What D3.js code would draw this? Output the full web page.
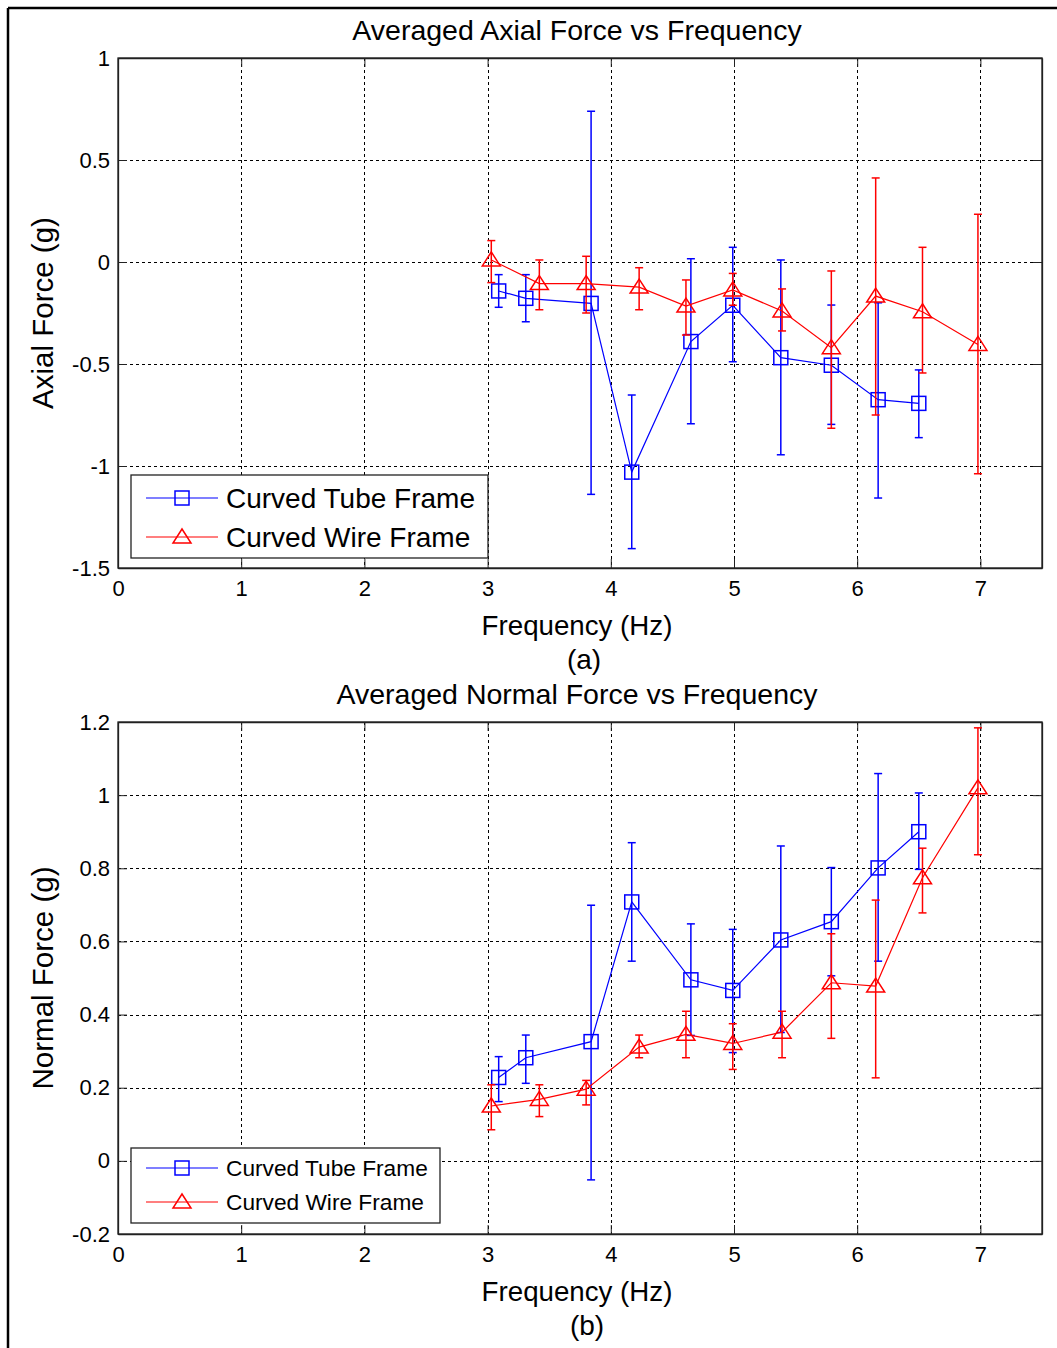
<!DOCTYPE html>
<html><head><meta charset="utf-8">
<script src="https://d3js.org/d3.v7.min.js"></script>
<style>body{margin:0;background:#fff}svg{display:block}text{font-family:"Liberation Sans",Arial,sans-serif;fill:#000}</style>
</head><body>
<script>
// ---- data ----
const xTicks = [0,1,2,3,4,5,6,7];
const yTicksA = [1,0.5,0,-0.5,-1,-1.5];
const yTicksB = [1.2,1,0.8,0.6,0.4,0.2,0,-0.2];
const seriesNames = ["Curved Tube Frame","Curved Wire Frame"];

// (a) Axial force
const tubeFreqA = [3.09,3.31,3.84,4.17,4.65,4.99,5.38,5.79,6.17,6.50];
const tubeAxial = [-0.142,-0.178,-0.203,-1.03,-0.39,-0.212,-0.469,-0.506,-0.675,-0.693];
const tubeAxialHi = [-0.062,-0.062,0.739,-0.652,0.016,0.072,0.01,-0.211,-0.2,-0.529];
const tubeAxialLo = [-0.222,-0.293,-1.139,-1.405,-0.793,-0.489,-0.945,-0.796,-1.157,-0.861];
const wireFreqA = [3.03,3.42,3.80,4.23,4.61,4.99,5.39,5.79,6.15,6.53,6.98];
const wireAxial = [0.01,-0.106,-0.106,-0.123,-0.216,-0.137,-0.24,-0.42,-0.167,-0.244,-0.404];
const wireAxialHi = [0.105,0.01,0.028,-0.028,-0.088,-0.056,-0.132,-0.044,0.412,0.072,0.234];
const wireAxialLo = [-0.101,-0.234,-0.25,-0.234,-0.358,-0.212,-0.338,-0.815,-0.75,-0.544,-1.038];

// (b) Normal force
const tubeNormal = [0.228,0.282,0.326,0.708,0.495,0.466,0.604,0.654,0.801,0.9];
const tubeNormalHi = [0.285,0.344,0.699,0.87,0.648,0.633,0.861,0.802,1.059,1.006];
const tubeNormalLo = [0.162,0.212,-0.052,0.546,0.343,0.296,0.351,0.506,0.546,0.797];
const wireNormal = [0.15,0.168,0.196,0.311,0.346,0.321,0.352,0.487,0.478,0.774,1.02];
const wireNormalHi = [0.208,0.208,0.22,0.344,0.409,0.375,0.409,0.621,0.713,0.855,1.184];
const wireNormalLo = [0.085,0.121,0.153,0.282,0.282,0.25,0.282,0.335,0.227,0.678,0.837];

const BLUE = "#0000ff", RED = "#ff0000";

const W = 1057, H = 1348;
const svg = d3.select("body").append("svg").attr("width", W).attr("height", H);

// outer frame (left & top visible)
svg.append("line").attr("x1",8).attr("x2",W).attr("y1",8).attr("y2",8).attr("stroke","#000").attr("stroke-width",2.5);
svg.append("line").attr("x1",8).attr("x2",8).attr("y1",8).attr("y2",H).attr("stroke","#000").attr("stroke-width",2.5);

function zip(xs, ys, hi, lo){ return xs.map((x,i)=>({x, y: ys[i], hi: hi[i], lo: lo[i]})); }

function panel(cfg){
  const x = d3.scaleLinear().domain([0,7.5]).range([118,1042]);
  const y = d3.scaleLinear().domain(cfg.ydom).range([cfg.bottom, cfg.top]);
  const g = svg.append("g");
  const L = 118, R = 1042, T = cfg.top, B = cfg.bottom;

  // grid
  g.selectAll(".gx").data(xTicks.filter(t=>t>0)).join("line")
    .attr("x1",d=>Math.round(x(d))+0.5).attr("x2",d=>Math.round(x(d))+0.5).attr("y1",T).attr("y2",B)
    .attr("stroke","#000").attr("stroke-width",1).attr("stroke-dasharray","3,3");
  g.selectAll(".gy").data(cfg.yticks.filter(t=>t!==cfg.ydom[0] && t!==cfg.ydom[1])).join("line")
    .attr("x1",L).attr("x2",R).attr("y1",d=>Math.round(y(d))+0.5).attr("y2",d=>Math.round(y(d))+0.5)
    .attr("stroke","#000").attr("stroke-width",1).attr("stroke-dasharray","3,3");

  // axes via d3 axis (inward ticks)
  const xAxisB = d3.axisBottom(x).tickValues(xTicks).tickSizeInner(-9).tickSizeOuter(0).tickPadding(12).tickFormat(d=>String(d));
  g.append("g").attr("transform",`translate(0,${B})`).call(xAxisB);
  const xAxisT = d3.axisTop(x).tickValues(xTicks).tickSizeInner(-9).tickSizeOuter(0).tickFormat("");
  g.append("g").attr("transform",`translate(0,${T})`).call(xAxisT);
  const yAxisL = d3.axisLeft(y).tickValues(cfg.yticks).tickSizeInner(-9).tickSizeOuter(0).tickPadding(8).tickFormat(d=>String(d));
  g.append("g").attr("transform",`translate(${L},0)`).call(yAxisL);
  const yAxisR = d3.axisRight(y).tickValues(cfg.yticks).tickSizeInner(-9).tickSizeOuter(0).tickFormat("");
  g.append("g").attr("transform",`translate(${R},0)`).call(yAxisR);
  g.selectAll(".domain").attr("stroke","#222").attr("stroke-width",1.3);
  g.selectAll(".tick line").attr("stroke","#222");
  g.selectAll(".tick text").attr("font-size",22).attr("font-family","Liberation Sans, Arial, sans-serif").attr("fill","#000");

  // box
  g.append("rect").attr("x",L).attr("y",T).attr("width",R-L).attr("height",B-T).attr("fill","none").attr("stroke","#222").attr("stroke-width",1.3);

  // series
  const line = d3.line().x(d=>x(d.x)).y(d=>y(d.y));
  cfg.series.forEach(s=>{
    const sg = g.append("g");
    sg.append("path").datum(s.data).attr("d",line).attr("fill","none").attr("stroke",s.color).attr("stroke-width",1.2);
    const eb = sg.selectAll(".eb").data(s.data).join("g");
    eb.append("line").attr("x1",d=>x(d.x)).attr("x2",d=>x(d.x)).attr("y1",d=>y(d.hi)).attr("y2",d=>y(d.lo)).attr("stroke",s.color).attr("stroke-width",1.5);
    eb.append("line").attr("x1",d=>x(d.x)-4).attr("x2",d=>x(d.x)+4).attr("y1",d=>y(d.hi)).attr("y2",d=>y(d.hi)).attr("stroke",s.color).attr("stroke-width",1.5);
    eb.append("line").attr("x1",d=>x(d.x)-4).attr("x2",d=>x(d.x)+4).attr("y1",d=>y(d.lo)).attr("y2",d=>y(d.lo)).attr("stroke",s.color).attr("stroke-width",1.5);
    if(s.marker==="square"){
      sg.selectAll(".mk").data(s.data).join("rect").attr("x",d=>x(d.x)-7).attr("y",d=>y(d.y)-7).attr("width",14).attr("height",14)
        .attr("fill","none").attr("stroke",s.color).attr("stroke-width",1.5);
    } else {
      sg.selectAll(".mk").data(s.data).join("path").attr("d",d=>{const cx=x(d.x), cy=y(d.y); return `M${cx},${cy-8}L${cx+9},${cy+6}L${cx-9},${cy+6}Z`;})
        .attr("fill","none").attr("stroke",s.color).attr("stroke-width",1.5);
    }
  });

  // title & labels
  svg.append("text").attr("x",577).attr("y",T-18).attr("text-anchor","middle").attr("font-size",28.5).text(cfg.title);
  svg.append("text").attr("x",577).attr("y",B+67).attr("text-anchor","middle").attr("font-size",27.7).text("Frequency (Hz)");
  svg.append("text").attr("x",cfg.capX).attr("y",B+101).attr("text-anchor","middle").attr("font-size",28).text(cfg.caption);
  svg.append("text").attr("transform",`translate(53,${cfg.ylabY}) rotate(-90)`).attr("text-anchor","middle").attr("font-size",29.5).text(cfg.ylabel);

  // legend
  const lg = cfg.legend;
  svg.append("rect").attr("x",lg.x).attr("y",lg.y).attr("width",lg.w).attr("height",lg.h).attr("fill","#fff").attr("stroke","#222").attr("stroke-width",1.3);
  cfg.series.forEach((s,i)=>{
    const cy = lg.y + lg.row0 + i*lg.dy;
    svg.append("line").attr("x1",lg.x+15).attr("x2",lg.x+87).attr("y1",cy).attr("y2",cy).attr("stroke",s.color).attr("stroke-width",1.2);
    const cx = lg.x+51;
    if(s.marker==="square") svg.append("rect").attr("x",cx-7).attr("y",cy-7).attr("width",14).attr("height",14).attr("fill","none").attr("stroke",s.color).attr("stroke-width",1.5);
    else svg.append("path").attr("d",`M${cx},${cy-8}L${cx+9},${cy+6}L${cx-9},${cy+6}Z`).attr("fill","none").attr("stroke",s.color).attr("stroke-width",1.5);
    svg.append("text").attr("x",lg.x+95).attr("y",cy).attr("dy","0.36em").attr("font-size",lg.fs).text(seriesNames[i]);
  });
}

panel({
  top:58, bottom:568, ydom:[-1.5,1], yticks:yTicksA,
  title:"Averaged Axial Force vs Frequency", ylabel:"Axial Force (g)", ylabY:313, caption:"(a)", capX:584,
  series:[
    {color:BLUE, marker:"square", data: zip(tubeFreqA, tubeAxial, tubeAxialHi, tubeAxialLo)},
    {color:RED, marker:"triangle", data: zip(wireFreqA, wireAxial, wireAxialHi, wireAxialLo)}
  ],
  legend:{x:131,y:475,w:357,h:83,row0:23,dy:39,fs:28}
});
panel({
  top:722, bottom:1234, ydom:[-0.2,1.2], yticks:yTicksB,
  title:"Averaged Normal Force vs Frequency", ylabel:"Normal Force (g)", ylabY:978, caption:"(b)", capX:587,
  series:[
    {color:BLUE, marker:"square", data: zip(tubeFreqA, tubeNormal, tubeNormalHi, tubeNormalLo)},
    {color:RED, marker:"triangle", data: zip(wireFreqA, wireNormal, wireNormalHi, wireNormalLo)}
  ],
  legend:{x:131,y:1148,w:309,h:75,row0:20,dy:34,fs:22.7}
});
</script>
</body></html>
